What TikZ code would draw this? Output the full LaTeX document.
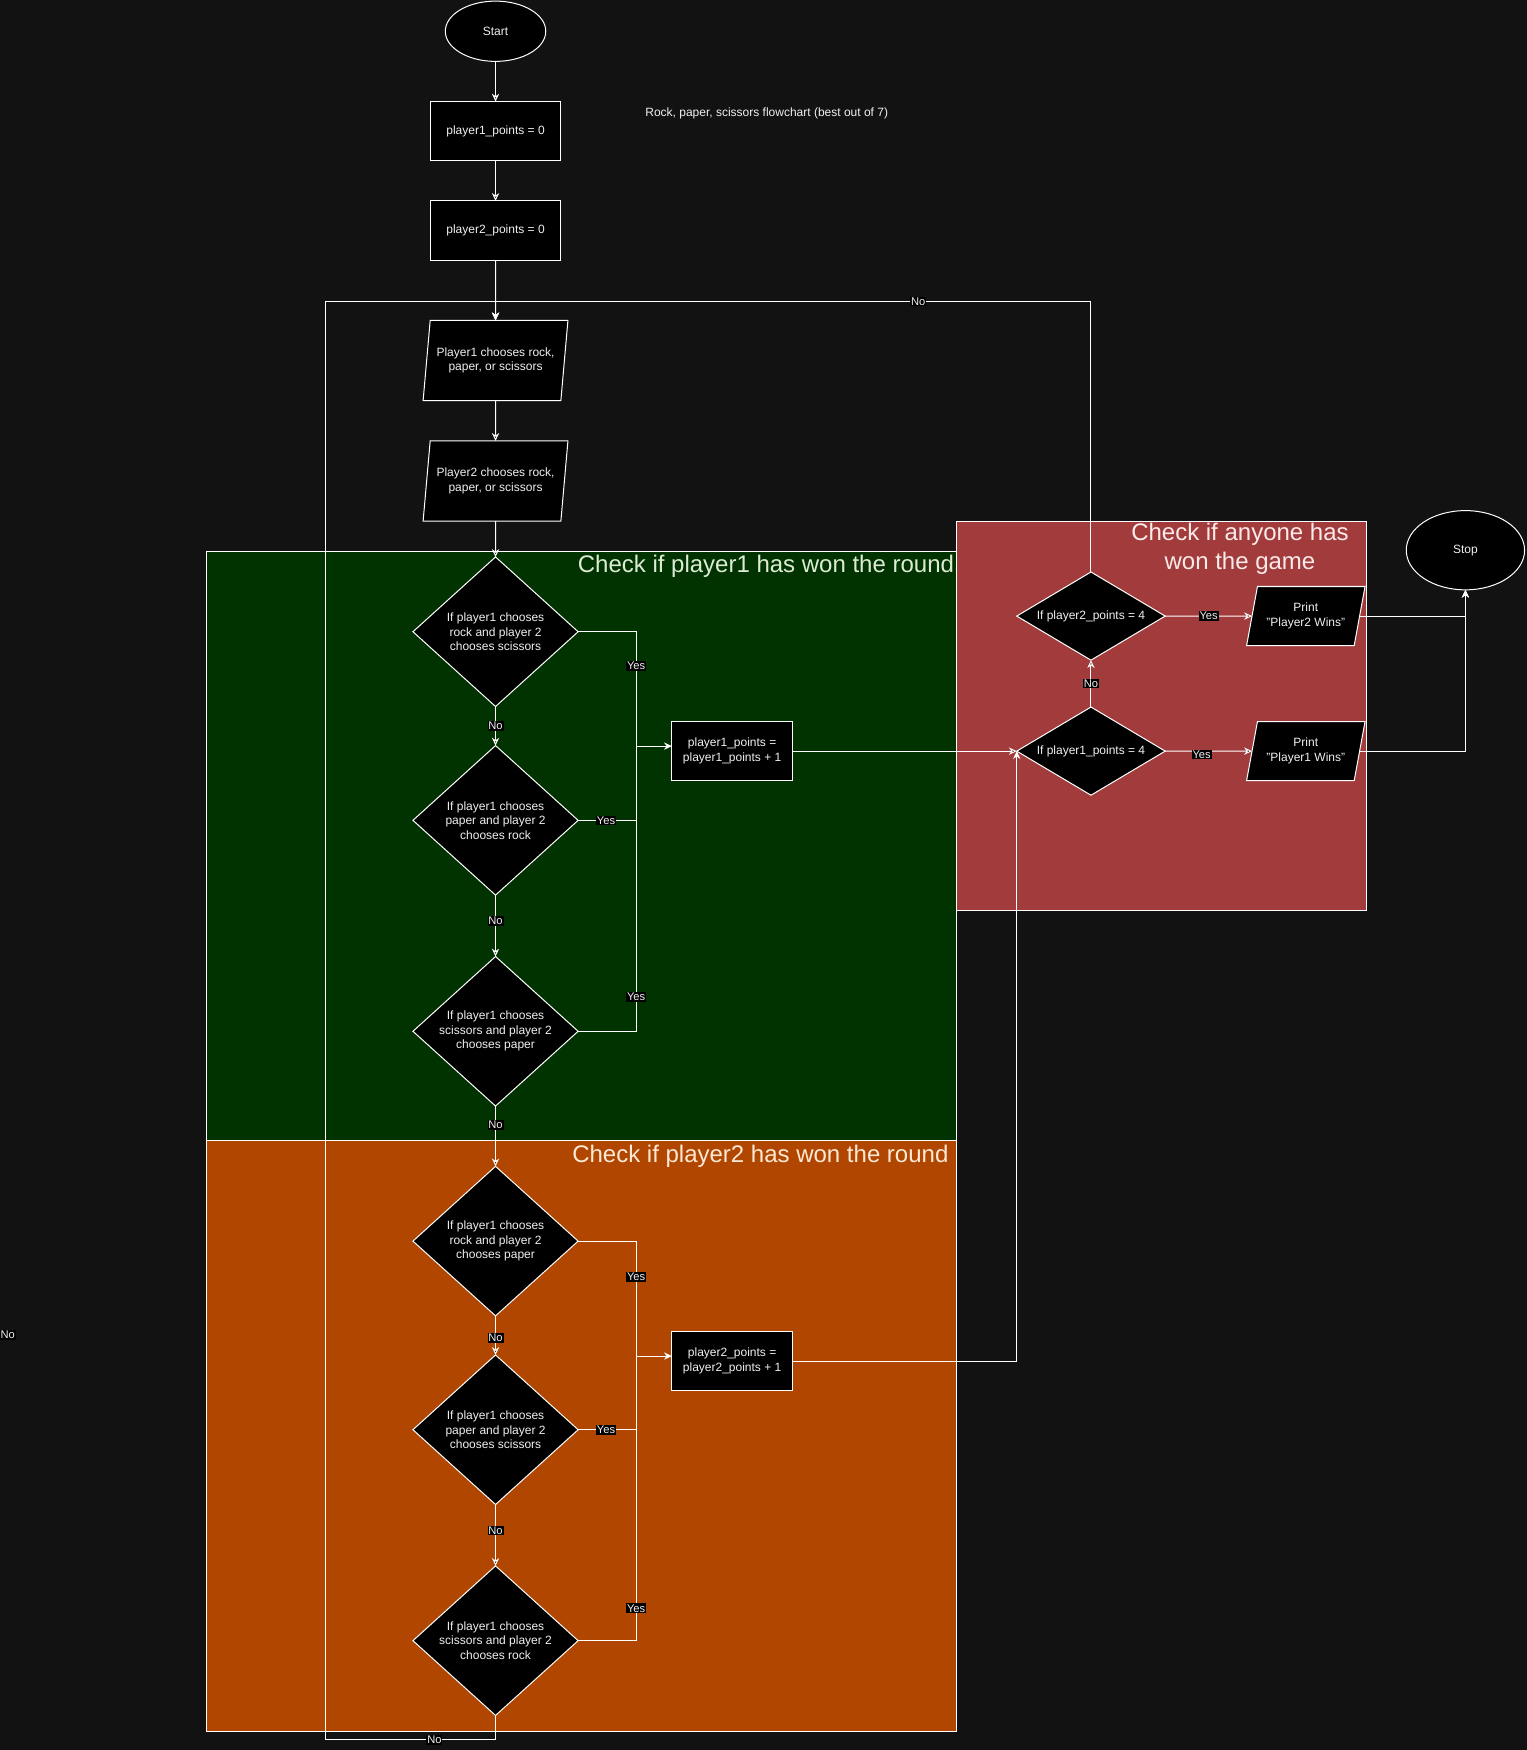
\documentclass[tikz,border=0pt]{standalone}
\usepackage{fontspec}
\setmainfont{Liberation Sans}
\usetikzlibrary{positioning, arrows.meta, shapes}

\definecolor{canvas}{HTML}{121212}
\definecolor{roundgreen}{HTML}{003300}
\definecolor{roundorange}{HTML}{B04600}
\definecolor{gamered}{HTML}{A23C3C}
\definecolor{inktext}{HTML}{F0F0F0}
\definecolor{greenhead}{HTML}{DDEBD5}
\definecolor{orangehead}{HTML}{FDE9D6}
\definecolor{redhead}{HTML}{FBEAEA}

\tikzset{
  base/.style={draw=white, fill=black, text=inktext, line width=0.9pt,
    font=\fontsize{10.75}{13}\selectfont, align=center, inner sep=0pt, outer sep=0pt},
  terminal/.style={base, ellipse},
  process/.style={base, rectangle, minimum width=116pt, minimum height=53pt},
  io/.style={base, trapezium, trapezium stretches=true,
    trapezium left angle=76, trapezium right angle=104,
    minimum width=130pt, minimum height=72pt},
  decision/.style={base, diamond, aspect=1.1, minimum width=148pt, minimum height=134pt},
  check/.style={base, diamond, aspect=1.68, minimum width=133pt, minimum height=79pt},
  lbl/.style={fill=black, text=inktext, font=\fontsize{10}{11}\selectfont, inner sep=0.8pt},
  line/.style={draw=white, line width=0.9pt},
  region/.style={draw=white, line width=0.9pt},
  heading/.style={font=\fontsize{21.5}{26}\selectfont, align=center, inner sep=0pt},
}

\begin{document}
\begin{tikzpicture}[>={Stealth[length=7pt, width=6.5pt, inset=2.2pt]}, x=1pt, y=-1pt, node distance=36pt]
  \useasboundingbox[fill=canvas] (0,0) rectangle (1368,1568);

  % regions
  \filldraw[region, fill=roundgreen] (185,494) rectangle (857,1022);
  \filldraw[region, fill=roundorange] (185,1022) rectangle (857,1551);
  \filldraw[region, fill=gamered] (857,467) rectangle (1224,816);

  \node[heading, text=greenhead, anchor=east] (greentitle) at (855,507) {Check if player1 has won the round};
  \node[heading, text=orangehead, anchor=east] (orangetitle) at (850,1036) {Check if player2 has won the round};
  \node[heading, text=redhead] (redtitle) at (1111,492) {Check if anyone has\\won the game};
  \node[text=inktext, font=\fontsize{10.75}{13}\selectfont] (caption) at (687,102) {Rock, paper, scissors flowchart (best out of 7)};
  \node[lbl] (strayno) at (7,1196) {No};

  % main column
  \node[terminal, minimum width=90pt, minimum height=54pt] (start) at (444,28) {Start};
  \node[process] (p1) [below = of start] {player1\_points = 0};
  \node[process] (p2) [below = of p1] {player2\_points = 0};
  \node[io] (pl1) [below = 54pt of p2] {Player1 chooses rock,\\paper, or scissors};
  \node[io] (pl2) [below = of pl1] {Player2 chooses rock,\\paper, or scissors};
  \node[decision] (d1) [below = 32pt of pl2] {If player1 chooses\\rock and player 2\\chooses scissors};
  \node[decision] (d2) [below = 35pt of d1] {If player1 chooses\\paper and player 2\\chooses rock};
  \node[decision] (d3) [below = 55pt of d2] {If player1 chooses\\scissors and player 2\\chooses paper};
  \node[decision] (d4) [below = 54pt of d3] {If player1 chooses\\rock and player 2\\chooses paper};
  \node[decision] (d5) [below = 35pt of d4] {If player1 chooses\\paper and player 2\\chooses scissors};
  \node[decision] (d6) [below = 55pt of d5] {If player1 chooses\\scissors and player 2\\chooses rock};

  \node[process, minimum width=108pt] (inc1) at (656,673) {player1\_points =\\player1\_points + 1};
  \node[process, minimum width=108pt] (inc2) at (656,1219.5) {player2\_points =\\player2\_points + 1};

  % game check
  \node[check] (w1) [right = 201pt of inc1] {If player1\_points = 4};
  \node[check] (w2) [above = 42pt of w1] {If player2\_points = 4};
  \node[io, trapezium left angle=71, trapezium right angle=109, minimum width=107pt, minimum height=53pt] (pr1) at (1170,673) {Print\\"Player1 Wins"};
  \node[io, trapezium left angle=71, trapezium right angle=109, minimum width=107pt, minimum height=53pt] (pr2) at (1170,552) {Print\\"Player2 Wins"};
  \node[terminal, minimum width=106pt, minimum height=71pt] (stop) at (1313,493) {Stop};

  \coordinate (join1) at (570,668.5);
  \coordinate (join2) at (570,1215);
  \coordinate (loopjoin) at (444,270);
  \coordinate (looptop) at (292,270);
  \coordinate (loopbottom) at (292,1559);

  \path[->, line]
    (start) edge (p1)
    (p1) edge (p2)
    (p2) edge (pl1)
    (pl1) edge (pl2)
    (pl2) edge (d1)
    (d1) edge node[lbl, pos=0.5] {No} (d2)
    (d2) edge node[lbl, pos=0.42] {No} (d3)
    (d3) edge node[lbl, pos=0.31] {No} (d4)
    (d4) edge node[lbl, pos=0.57] {No} (d5)
    (d5) edge node[lbl, pos=0.42] {No} (d6)
    (inc1) edge (w1)
    (w1) edge node[lbl] {No} (w2)
    (w2) edge node[lbl] {Yes} (pr2)
    (w1) edge node[lbl, pos=0.42, yshift=-3pt] {Yes} (pr1)
  ;

  \draw[line] (d1.east) -| node[lbl, pos=0.65] {Yes} (join1);
  \draw[line] (d2.east) -| node[lbl, pos=0.24] {Yes} (join1);
  \draw[line] (d3.east) -| node[lbl, pos=0.56] {Yes} (join1);
  \draw[line, ->] (join1) -- (join1 -| inc1.west);

  \draw[line] (d4.east) -| node[lbl, pos=0.655] {Yes} (join2);
  \draw[line] (d5.east) -| node[lbl, pos=0.24] {Yes} (join2);
  \draw[line] (d6.east) -| node[lbl, pos=0.557] {Yes} (join2);
  \draw[line, ->] (join2) -- (join2 -| inc2.west);

  \draw[line, ->] (inc2.east) -| (w1.west);
  \draw[line, ->] (pr2.east) -| (stop.south);
  \draw[line, ->] (pr1.east) -| (stop.south);

  \draw[line, ->] (w2.north) |- node[lbl, pos=0.645] {No} (loopjoin) -- (pl1.north);
  \draw[line, ->] (d6.south) |- node[lbl, pos=0.68] {No} (loopbottom) -- (looptop) -- (loopjoin) -- (pl1.north);
\end{tikzpicture}
\end{document}
